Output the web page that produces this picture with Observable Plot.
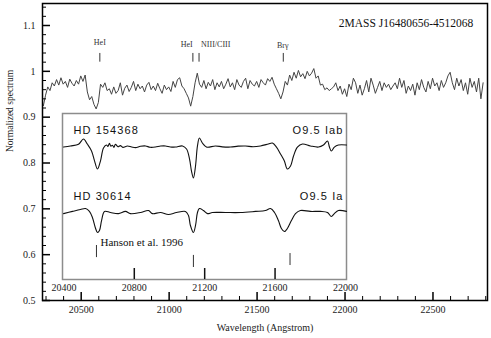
<!DOCTYPE html>
<html>
<head>
<meta charset="utf-8">
<script src="https://cdn.jsdelivr.net/npm/d3@7"></script>
<script src="https://cdn.jsdelivr.net/npm/@observablehq/plot@0.6"></script>
<style>
  html, body { margin: 0; padding: 0; background: white; }
  #wrap { position: relative; width: 491px; height: 338px; overflow: hidden; }
  #inset { position: absolute; left: 52px; top: 112px; }
  #inset g[font-family*="Liberation Sans"] text { letter-spacing: 1.1px; }
</style>
</head>
<body>
<div id="wrap"><div id="main"></div><div id="inset"></div></div>
<script>
// ---------------- Main spectrum (2MASS J16480656-4512068) ----------------
const specStart = 20285;   // first wavelength sample (Angstrom)
const specStep = 12.5;     // sampling step (Angstrom)
const specFlux = [
  0.925, 0.948, 0.966, 0.958, 0.975, 0.968, 0.982, 0.970, 0.986, 0.972,
  0.978, 0.965, 0.983, 0.974, 0.968, 0.980, 0.972, 0.990, 0.978, 0.992,
  0.955, 0.938, 0.945, 0.928, 0.918, 0.932, 0.972, 0.965, 0.975, 0.958,
  0.962, 0.950, 0.966, 0.952, 0.958, 0.975, 0.948, 0.963, 0.970, 0.956,
  0.965, 0.978, 0.958, 0.972, 0.962, 0.968, 0.955, 0.970, 0.976, 0.960,
  0.968, 0.958, 0.974, 0.962, 0.952, 0.970, 0.960, 0.966, 0.956, 0.978,
  0.965, 0.982, 0.986, 0.968, 0.962, 0.952, 0.942, 0.924, 0.945, 0.975,
  0.996, 0.972, 0.965, 0.980, 0.962, 0.976, 0.968, 0.982, 0.960, 0.975,
  0.966, 0.978, 0.962, 0.972, 0.984, 0.966, 0.975, 0.960, 0.982, 0.970,
  0.965, 0.978, 0.985, 0.962, 0.980, 0.972, 0.968, 0.978, 0.965, 0.982,
  0.975, 0.970, 0.984, 0.978, 0.987, 0.972, 0.962, 0.952, 0.940, 0.955,
  0.978, 0.970, 0.992, 0.980, 0.998, 0.985, 1.002, 0.988, 0.995, 0.984,
  1.000, 0.990, 0.996, 1.006, 0.985, 0.990, 0.970, 0.972, 0.960, 0.964,
  0.958, 0.962, 0.966, 0.975, 0.958, 0.968, 0.950, 0.962, 0.945, 0.972,
  0.960, 0.985, 0.975, 0.952, 0.970, 0.948, 0.962, 0.980, 0.955, 0.985,
  0.970, 0.952, 0.965, 0.978, 0.958, 0.975, 0.965, 0.972, 0.960, 0.968,
  0.975, 0.962, 0.985, 0.965, 0.980, 0.952, 0.968, 0.958, 0.972, 0.948,
  0.975, 0.960, 0.982, 0.965, 0.955, 0.978, 0.962, 0.985, 0.968, 0.975,
  0.958, 0.980, 0.965, 0.975, 0.990, 0.998, 0.975, 0.960, 0.985, 0.968,
  0.982, 0.958, 0.975, 0.950, 0.985, 0.965, 0.978, 0.955, 0.985, 0.940,
  0.975
];

// Line identifications on the main spectrum
const lineNames = ["HeI", "HeI", "NIII/CIII", "Brγ"];
const lineTickX = [20606, 21135, 21170, 21649];
const lineLabelX = [20606, 21100, 21265, 21646];
const lineLabelY = [1.062, 1.058, 1.059, 1.056];
const lineTickTop = 1.039;
const lineTickBottom = 1.020;

const mainTitle = "2MASS J16480656-4512068";
const mainTitlePos = [22347, 1.105];
const xLabel = "Wavelength (Angstrom)";
const yLabel = "Normalized spectrum";

const xMajor = [20500, 21000, 21500, 22000, 22500];
const xMinor = [20300, 20400, 20600, 20700, 20800, 20900, 21100, 21200, 21300, 21400,
                21600, 21700, 21800, 21900, 22100, 22200, 22300, 22400, 22600, 22700, 22800];
const yMajor = [0.5, 0.6, 0.7, 0.8, 0.9, 1.0, 1.1];
const yMinor = [0.52, 0.54, 0.56, 0.58, 0.62, 0.64, 0.66, 0.68, 0.72, 0.74, 0.76, 0.78,
                0.82, 0.84, 0.86, 0.88, 0.92, 0.94, 0.96, 0.98, 1.02, 1.04, 1.06, 1.08,
                1.12, 1.14];

// ---------------- Inset: comparison stars (Hanson et al. 1996) ----------------
const starNames = ["HD 154368", "HD 30614"];
const starTypes = ["O9.5 Iab", "O9.5 Ia"];
const starOffsets = [0.6, 0.0];
const hd154368Wave = [20398, 20437, 20483, 20511, 20534, 20557, 20574, 20591, 20608, 20625,
  20642, 20650, 20659, 20667, 20676, 20684, 20693, 20707, 20721, 20735, 20761, 20785, 20807,
  20835, 20864, 20890, 20920, 20950, 20977, 21005, 21034, 21074, 21097, 21114, 21125, 21136,
  21148, 21159, 21170, 21187, 21210, 21261, 21300, 21347, 21390, 21432, 21475, 21517, 21562,
  21585, 21608, 21631, 21653, 21670, 21688, 21705, 21727, 21756, 21801, 21847, 21875, 21898,
  21909, 21920, 21937, 21960, 22006];
const hd154368Flux = [0.995, 1.005, 1.020, 1.068, 1.020, 0.960, 0.870, 0.795, 0.870, 0.986,
  1.014, 1.000, 1.030, 1.002, 1.012, 0.992, 1.020, 0.998, 1.008, 0.992, 1.005, 0.996, 0.990,
  1.002, 1.005, 0.993, 0.995, 1.004, 1.005, 0.996, 0.995, 1.005, 0.977, 0.886, 0.777, 0.714,
  0.823, 1.005, 1.077, 1.032, 0.995, 1.005, 0.997, 0.995, 1.003, 1.005, 0.998, 1.005, 1.023,
  1.032, 0.995, 0.932, 0.868, 0.795, 0.823, 0.914, 0.995, 1.023, 1.005, 0.995, 1.014, 1.050,
  0.995, 0.959, 0.995, 1.014, 1.014];
const hd30614Wave = [20398, 20449, 20494, 20523, 20545, 20562, 20580, 20591, 20602, 20614,
  20631, 20665, 20710, 20750, 20778, 20835, 20881, 20903, 20949, 20994, 21040, 21091, 21108,
  21119, 21136, 21148, 21159, 21170, 21193, 21216, 21244, 21318, 21403, 21489, 21545, 21574,
  21597, 21619, 21636, 21653, 21670, 21693, 21716, 21744, 21801, 21858, 21898, 21920, 21937,
  21960, 22006];
const hd30614Flux = [0.990, 1.010, 1.027, 1.036, 1.010, 0.955, 0.855, 0.818, 0.836, 0.927,
  1.010, 1.000, 0.990, 1.010, 0.990, 1.000, 1.018, 0.990, 1.000, 0.982, 1.000, 1.010, 0.973,
  0.882, 0.818, 0.882, 1.000, 1.036, 1.018, 0.990, 1.000, 1.000, 1.000, 1.010, 1.018, 1.036,
  1.000, 0.927, 0.855, 0.827, 0.855, 0.927, 0.990, 1.018, 1.010, 1.010, 1.000, 0.964, 0.990,
  1.018, 1.010];

const insetRefLabel = "Hanson et al. 1996";
const insetRefPos = [20608, 0.727];
const insetMarkX = [20585, 21136, 21685];
const insetMarkTop = [0.70, 0.61, 0.627];
const insetMarkBottom = [0.59, 0.50, 0.518];
const insetLabelX = [20454, 21989];
const insetLabelY = [1.745, 1.145];
const insetTickLabels = [20400, 20800, 21200, 21600, 22000];
const insetTicks = [20800, 21200, 21600];

// ---------------- Build main chart ----------------
const spectrum = specFlux.map((f, i) => ({x: specStart + specStep * i, y: f}));
const W = 491, H = 338, mL = 42, mR = 4, mT = 3, mB = 38;
const innerW = W - mL - mR, innerH = H - mT - mB;
const serif = "'Liberation Serif', 'DejaVu Serif', serif";
const sans = "'Liberation Sans', Arial, sans-serif";

const main = Plot.plot({
  width: W, height: H,
  marginLeft: mL, marginRight: mR, marginTop: mT, marginBottom: mB,
  style: {fontFamily: serif, fontSize: "10px", background: "white", color: "#222"},
  x: {domain: [20280, 22810], axis: null},
  y: {domain: [0.5, 1.148], axis: null},
  marks: [
    Plot.line(spectrum, {x: "x", y: "y", stroke: "#444", strokeWidth: 1}),
    Plot.ruleX(lineTickX, {x: d => d, y1: lineTickTop, y2: lineTickBottom, stroke: "#333", strokeWidth: 1}),
    Plot.text(lineNames, {x: (d, i) => lineLabelX[i], y: (d, i) => lineLabelY[i], text: d => d,
      fontSize: 8, fill: "#333"}),
    Plot.text([mainTitle], {x: mainTitlePos[0], y: mainTitlePos[1], text: d => d, fontSize: 11.5, fill: "#111"}),
    Plot.tickX(xMajor, {x: d => d, insetTop: innerH - 8, stroke: "black", strokeWidth: 1.5}),
    Plot.tickX(xMinor, {x: d => d, insetTop: innerH - 4, stroke: "black", strokeWidth: 1}),
    Plot.tickY(yMajor, {y: d => d, insetRight: innerW - 8, stroke: "black", strokeWidth: 1.5}),
    Plot.tickY(yMinor, {y: d => d, insetRight: innerW - 4, stroke: "black", strokeWidth: 1}),
    Plot.axisX(xMajor, {tickSize: 0, tickPadding: 5, tickFormat: d => String(d), label: null, fontSize: 10, fill: "#222"}),
    Plot.axisY(yMajor, {tickSize: 0, tickPadding: 7, tickFormat: d => String(+d.toFixed(2)), label: null, fontSize: 10, fill: "#222"}),
    Plot.text([xLabel], {frameAnchor: "bottom", dy: 30, text: d => d, fontSize: 10, fill: "#222"}),
    Plot.text([yLabel], {frameAnchor: "left", dx: -33, rotate: -90, text: d => d, fontSize: 9.5, fill: "#222"}),
    Plot.frame({stroke: "black", strokeWidth: 1.5})
  ]
});
document.getElementById("main").append(main);

// ---------------- Build inset chart ----------------
const rows = [];
hd154368Wave.forEach((w, i) => rows.push({x: w, y: hd154368Flux[i] + starOffsets[0], star: starNames[0]}));
hd30614Wave.forEach((w, i) => rows.push({x: w, y: hd30614Flux[i] + starOffsets[1], star: starNames[1]}));

const iW = 304, iH = 187, imL = 10, imR = 10, imT = 1, imB = 20;
const iInnerH = iH - imT - imB;
const inset = Plot.plot({
  width: iW, height: iH,
  marginLeft: imL, marginRight: imR, marginTop: imT, marginBottom: imB,
  style: {fontFamily: serif, fontSize: "10px", background: "transparent", color: "#222", overflow: "visible"},
  x: {domain: [20392, 22006], axis: null},
  y: {domain: [0.391, 1.9], axis: null},
  marks: [
    Plot.frame({fill: "white", stroke: "#8c8c8c", strokeWidth: 1.5}),
    Plot.line(rows, {x: "x", y: "y", z: "star", stroke: "#111", strokeWidth: 1.1, curve: "catmull-rom"}),
    Plot.text(starNames, {x: insetLabelX[0], y: (d, i) => insetLabelY[i], text: d => d, textAnchor: "start",
      fontFamily: sans, fontSize: 11, fill: "#111"}),
    Plot.text(starTypes, {x: insetLabelX[1], y: (d, i) => insetLabelY[i], text: d => d, textAnchor: "end",
      fontFamily: sans, fontSize: 11, fill: "#111"}),
    Plot.text([insetRefLabel], {x: insetRefPos[0], y: insetRefPos[1], text: d => d, textAnchor: "start", fontSize: 11, fill: "#111"}),
    Plot.ruleX(insetMarkX, {x: d => d, y1: (d, i) => insetMarkTop[i], y2: (d, i) => insetMarkBottom[i], stroke: "#333", strokeWidth: 1}),
    Plot.tickX(insetTicks, {x: d => d, insetTop: iInnerH - 11, stroke: "#111", strokeWidth: 1.5}),
    Plot.axisX(insetTickLabels, {tickSize: 0, tickPadding: 4, tickFormat: d => String(d), label: null, fontSize: 10, fill: "#222"})
  ]
});
document.getElementById("inset").append(inset);
</script>
</body>
</html>
